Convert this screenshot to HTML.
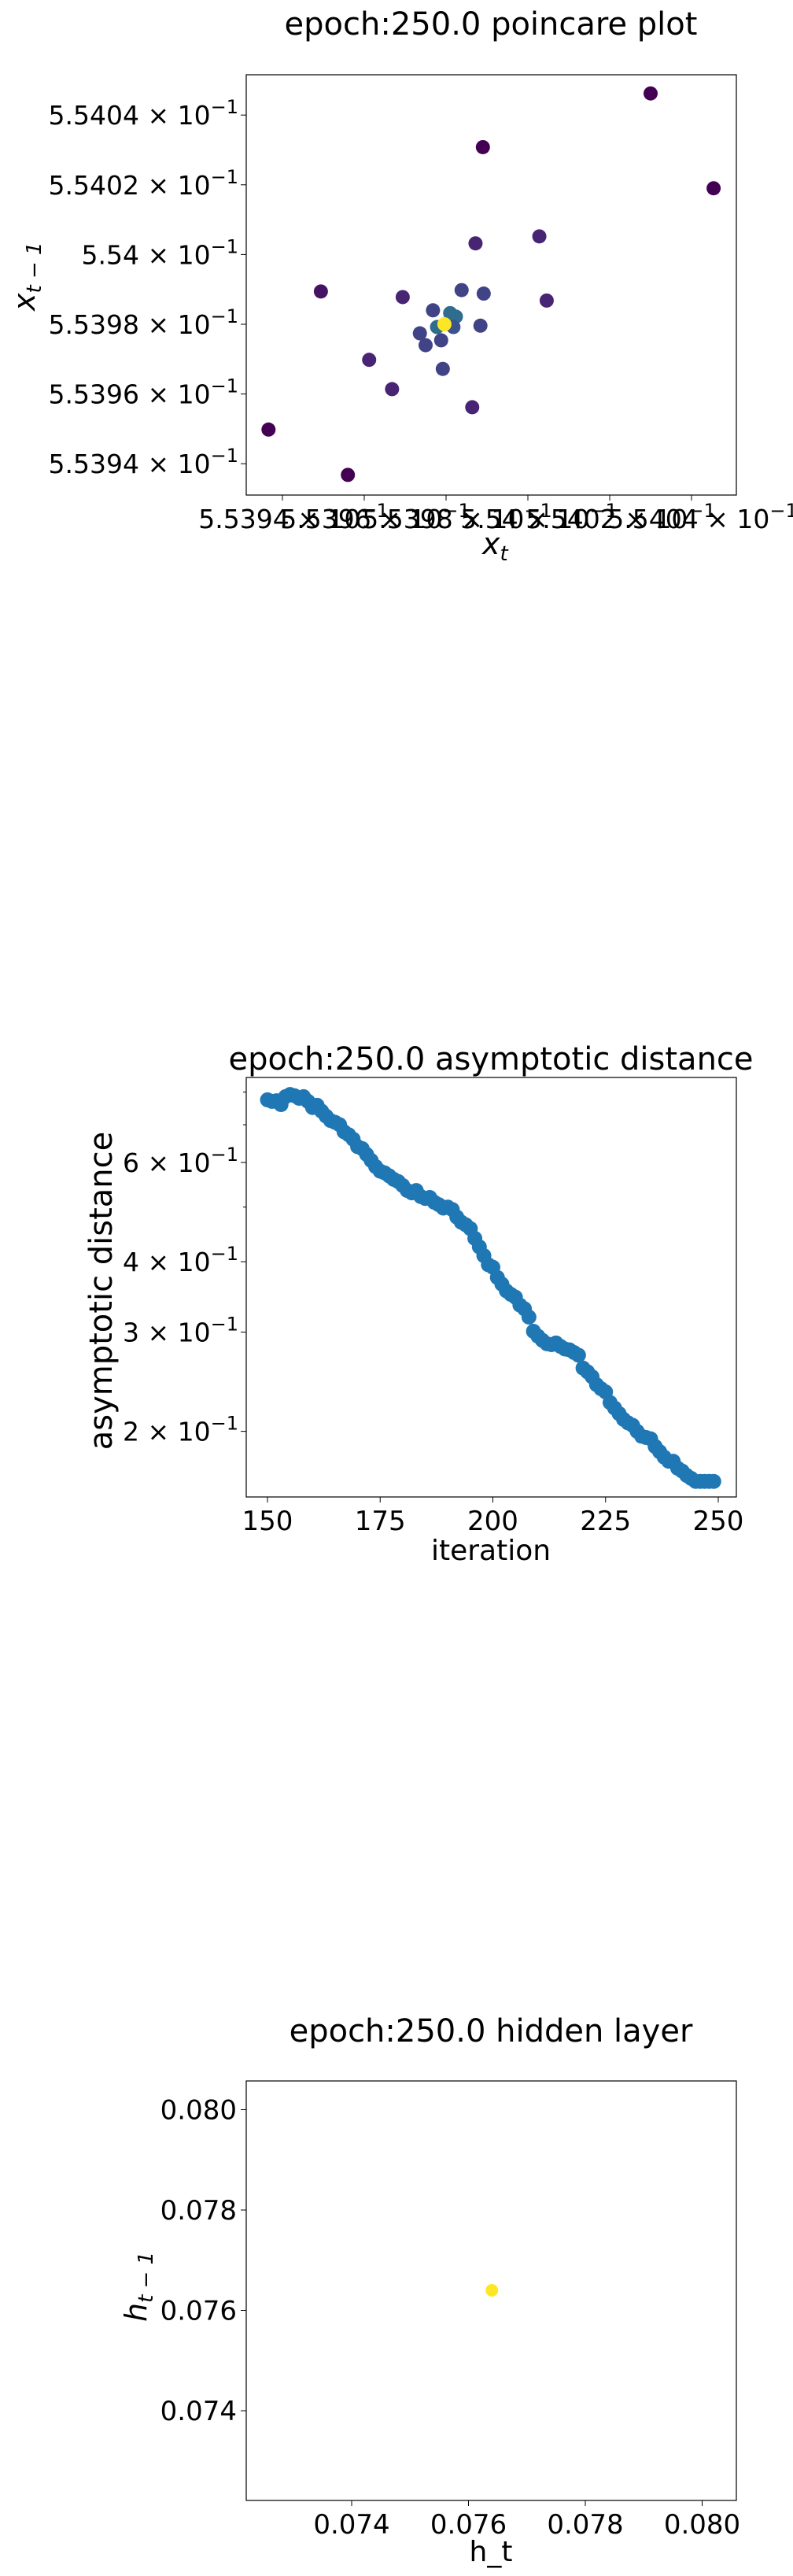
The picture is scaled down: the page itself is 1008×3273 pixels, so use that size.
<!DOCTYPE html>
<html><head><meta charset="utf-8"><style>
html,body{margin:0;padding:0;background:#fff}
svg text{font-family:"DejaVu Sans","Liberation Sans",sans-serif;fill:#000}
</style></head><body>
<svg id="svg" width="1008" height="3268" viewBox="0 0 1008 3268" xmlns="http://www.w3.org/2000/svg">
<g id="p1"></g>
<g id="p2"></g>
<g id="p3"></g>
</svg>
<script>
// ---- Poincare data (mantissa, x10^-1) ----
const pcX = [5.5403,5.53989,5.540454,5.540028,5.539872,5.539494,5.539838,5.539892,5.540046,5.539694,5.539768,5.53981,5.539824,5.539884,5.539818,5.539778,5.539736,5.539788,5.53975,5.539612,5.539792,5.539668,5.539864,5.539366,5.53956,5.539796];
const pcY = [5.540462,5.540308,5.54019,5.540052,5.540032,5.539894,5.539898,5.539888,5.539868,5.539878,5.53984,5.539832,5.539822,5.539796,5.539792,5.539792,5.539774,5.539754,5.53974,5.539698,5.539672,5.539614,5.539562,5.539498,5.539368,5.5398];
const pcC = [0.0,0.0,0.0,0.1,0.1,0.05,0.2,0.2,0.1,0.1,0.2,0.35,0.35,0.2,0.25,0.35,0.2,0.2,0.2,0.1,0.2,0.1,0.1,0.0,0.0,1.0];
const pcTicks = [5.5394,5.5396,5.5398,5.54,5.5402,5.5404];
const pcTickLabels = ["5.5394","5.5396","5.5398","5.54","5.5402","5.5404"];
// ---- Asymptotic distance data ----
const adIter = []; for (let i=150;i<250;i++) adIter.push(i);
const adVal = [.775,.770,.772,.760,.785,.792,.788,.780,.785,.770,
.751,.758,.740,.725,.712,.707,.700,.680,.672,.660,
.640,.635,.620,.605,.590,.579,.575,.568,.560,.555,
.546,.535,.530,.535,.522,.518,.520,.510,.505,.498,
.500,.495,.480,.470,.465,.458,.440,.425,.410,.395,
.391,.375,.365,.355,.350,.346,.335,.330,.319,.301,
.295,.290,.286,.285,.287,.283,.280,.279,.276,.273,
.259,.255,.250,.242,.238,.235,.225,.220,.215,.210,
.207,.205,.200,.196,.195,.194,.188,.184,.180,.177,
.177,.172,.170,.167,.165,.163,.163,.163,.163,.163];
const adXTicks = [150,175,200,225,250];
const adYTicks = [0.6,0.4,0.3,0.2];
const adYTickLabels = ["6","4","3","2"];
const adYMinor = [0.5,0.7,0.8];
// ---- Hidden layer data ----
const hlX = [0.0764];
const hlY = [0.0764];
const hlTicks = [0.074,0.076,0.078,0.080];
const hlTickLabels = ["0.074","0.076","0.078","0.080"];

const NS="http://www.w3.org/2000/svg";
function mk(parent,tag,attrs,text){const e=document.createElementNS(NS,tag);for(const k in attrs)e.setAttribute(k,attrs[k]);if(text!==undefined)e.textContent=text;parent.appendChild(e);return e;}
function viridis(t){const s=[[68,1,84],[72,40,120],[62,74,137],[49,104,142],[38,130,142],[31,158,137],[53,183,121],[109,205,89],[180,222,44],[253,231,37]];const f=t*(s.length-1);const i=Math.min(Math.floor(f),s.length-2);const r=f-i;const c=s[i].map((v,k)=>Math.round(v+(s[i+1][k]-v)*r));return `rgb(${c[0]},${c[1]},${c[2]})`;}
function sciLabel(g,x,y,mant,anchor,name){
  const t=mk(g,'text',{x:x,y:y,'font-size':33,'text-anchor':anchor});
  
  
  mk(t,'tspan',{},mant+' \u00d7 10');
  mk(t,'tspan',{dy:-14,'font-size':24},'\u22121');
  return t;
}
function frame(g,L,T,R,B){const r=mk(g,'rect',{x:L,y:T,width:R-L,height:B-T,fill:'none',stroke:'#000','stroke-width':1.2});}

// ---------- Plot 1 ----------
(function(){
const g=document.getElementById('p1');
const L=313,R=936,T=95,B=629;
const xs=v=>567+(v-5.5398)/0.0002*104;
const ys=v=>412-(v-5.5398)/0.0002*88.6;
const ti=mk(g,'text',{x:624,y:44,'font-size':40,'text-anchor':'middle'},'epoch:250.0 poincare plot');

frame(g,L,T,R,B);
pcTicks.forEach((v,i)=>{
  const y=ys(v); mk(g,'line',{x1:L-7,x2:L,y1:y,y2:y,stroke:'#000','stroke-width':1});
  sciLabel(g,L-10,y+12,pcTickLabels[i],'end','y-tick-label');
  const x=xs(v); mk(g,'line',{x1:x,x2:x,y1:B,y2:B+7,stroke:'#000','stroke-width':1});
  sciLabel(g,x+14,B+42,pcTickLabels[i],'middle','x-tick-label');
});
pcX.forEach((v,i)=>{
  const c=mk(g,'circle',{cx:xs(v),cy:ys(pcY[i]),r:9,fill:viridis(pcC[i])});
  
  
});
const xl=mk(g,'text',{x:613,y:704,'font-size':38,'font-style':'italic'});

mk(xl,'tspan',{},'x');mk(xl,'tspan',{dy:8,'font-size':26},'t');
const yl=mk(g,'text',{x:0,y:0,'font-size':38,'font-style':'italic',transform:'translate(44,395) rotate(-90)'});

mk(yl,'tspan',{},'x');mk(yl,'tspan',{dy:8,'font-size':26},'t \u2212 1');
})();

// ---------- Plot 2 ----------
(function(){
const g=document.getElementById('p2');
const L=313,R=936,T=1369,B=1902;
const xs=v=>340+(v-150)/100*573;
const ys=v=>1477-716*Math.log10(v/0.6);
const ti=mk(g,'text',{x:624,y:1359,'font-size':40,'text-anchor':'middle'},'epoch:250.0 asymptotic distance');

frame(g,L,T,R,B);
adYTicks.forEach((v,i)=>{
  const y=ys(v); mk(g,'line',{x1:L-7,x2:L,y1:y,y2:y,stroke:'#000','stroke-width':1});
  sciLabel(g,L-10,y+12,adYTickLabels[i],'end','y-tick-label');
});
adYMinor.forEach(v=>{const y=ys(v);mk(g,'line',{x1:L-4,x2:L,y1:y,y2:y,stroke:'#000','stroke-width':1});});
adXTicks.forEach(v=>{
  const x=xs(v); mk(g,'line',{x1:x,x2:x,y1:B,y2:B+7,stroke:'#000','stroke-width':1});
  const t=mk(g,'text',{x:x,y:B+42,'font-size':34,'text-anchor':'middle'},String(v));
  
});
adIter.forEach((v,i)=>{
  const c=mk(g,'circle',{cx:xs(v),cy:ys(adVal[i]),r:9.5,fill:'#1f77b4'});
  
  
});
const xl=mk(g,'text',{x:624,y:1982,'font-size':36,'text-anchor':'middle'},'iteration');

const yl=mk(g,'text',{x:0,y:0,'font-size':40,'text-anchor':'middle',transform:'translate(142,1640) rotate(-90)'},'asymptotic distance');

})();

// ---------- Plot 3 ----------
(function(){
const g=document.getElementById('p3');
const L=313,R=936,T=2644,B=3177;
const xs=v=>447+(v-0.074)/0.002*148.5;
const ys=v=>3063-(v-0.074)/0.002*127.5;
const ti=mk(g,'text',{x:624,y:2594,'font-size':40,'text-anchor':'middle'},'epoch:250.0 hidden layer');

frame(g,L,T,R,B);
hlTicks.forEach((v,i)=>{
  const y=ys(v); mk(g,'line',{x1:L-7,x2:L,y1:y,y2:y,stroke:'#000','stroke-width':1});
  const t=mk(g,'text',{x:L-12,y:y+12,'font-size':34,'text-anchor':'end'},hlTickLabels[i]);
  
  const x=xs(v); mk(g,'line',{x1:x,x2:x,y1:B,y2:B+7,stroke:'#000','stroke-width':1});
  const t2=mk(g,'text',{x:x,y:B+42,'font-size':34,'text-anchor':'middle'},hlTickLabels[i]);
  
});
hlX.forEach((v,i)=>{
  const c=mk(g,'circle',{cx:xs(v),cy:ys(hlY[i]),r:8,fill:'#fde725'});
  
  
});
const xl=mk(g,'text',{x:624,y:3254,'font-size':36,'text-anchor':'middle'},'h_t');

const yl=mk(g,'text',{x:0,y:0,'font-size':38,'font-style':'italic',transform:'translate(186,2950) rotate(-90)'});

mk(yl,'tspan',{},'h');mk(yl,'tspan',{dy:8,'font-size':26},'t \u2212 1');
})();
</script>
</body></html>
